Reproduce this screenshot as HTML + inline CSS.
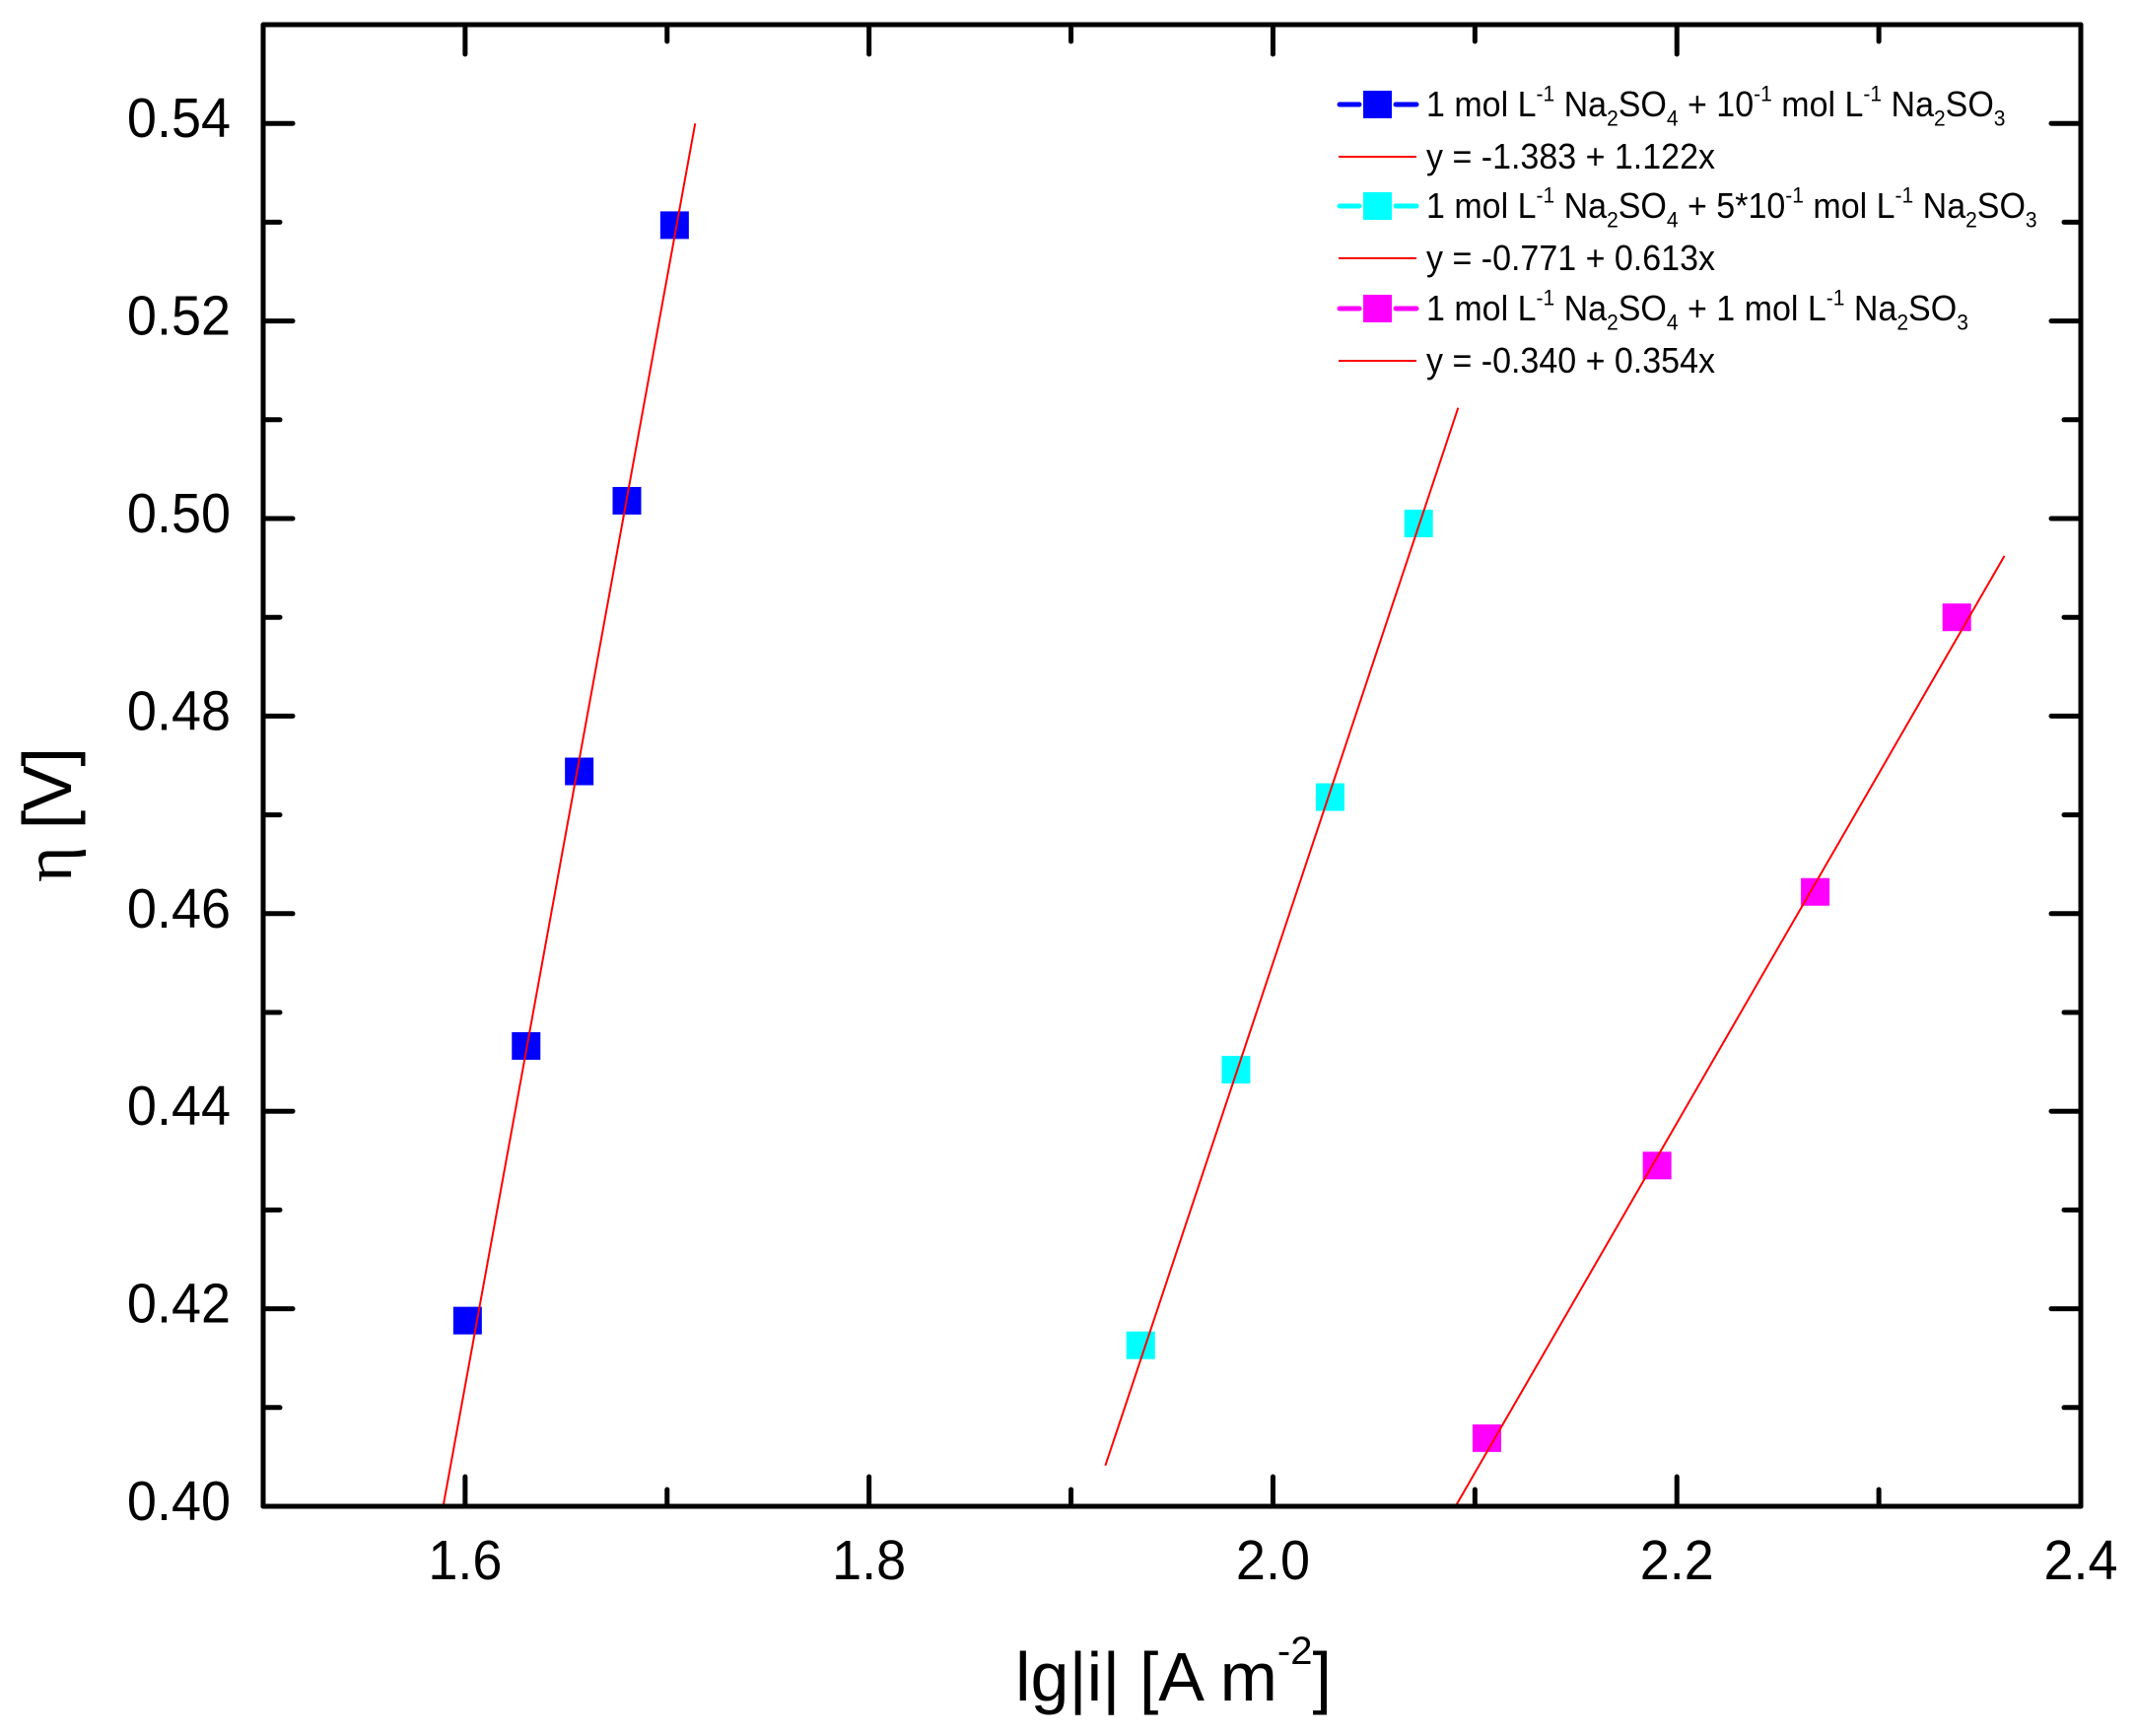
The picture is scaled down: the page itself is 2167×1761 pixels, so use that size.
<!DOCTYPE html>
<html lang="en">
<head>
<meta charset="utf-8">
<title>Tafel plot</title>
<style>
html,body{margin:0;padding:0;background:#fff;}
svg{display:block;}
text{font-family:"Liberation Sans",Arial,sans-serif;fill:#000;}
</style>
</head>
<body>
<svg id="chart" xmlns="http://www.w3.org/2000/svg" width="2167" height="1761" viewBox="0 0 2167 1761">
  <rect x="0" y="0" width="2167" height="1761" fill="#fff"/>
  <g id="marks"></g>
  <g id="axes"></g>

  <text x="1030" y="1725" font-size="70">lg|i| [A m<tspan font-size="40" dy="-37">-2</tspan><tspan dy="37">]</tspan></text>
  <text transform="translate(72,895) rotate(-90)" font-size="70" textLength="137"><tspan style="font-family:'Liberation Serif',serif">η</tspan> [V]</text>

  <g font-size="34">
    <g>
      <line x1="1359" y1="106" x2="1379" y2="106" stroke="#0000ff" stroke-width="5" stroke-linecap="round"/>
      <line x1="1416" y1="106" x2="1437" y2="106" stroke="#0000ff" stroke-width="5" stroke-linecap="round"/>
      <rect x="1383" y="92" width="29" height="28" fill="#0000ff"/>
      <text transform="translate(1447,118) scale(1,1.05)">1 mol L<tspan font-size="21" dy="-15">-1</tspan><tspan dy="15"> Na</tspan><tspan font-size="21" dy="9">2</tspan><tspan dy="-9">SO</tspan><tspan font-size="21" dy="9">4</tspan><tspan dy="-9"> + 10</tspan><tspan font-size="21" dy="-15">-1</tspan><tspan dy="15"> mol L</tspan><tspan font-size="21" dy="-15">-1</tspan><tspan dy="15"> Na</tspan><tspan font-size="21" dy="9">2</tspan><tspan dy="-9">SO</tspan><tspan font-size="21" dy="9">3</tspan></text>
    </g>
    <g>
      <line x1="1358" y1="159" x2="1437" y2="159" stroke="#ff0000" stroke-width="2"/>
      <text transform="translate(1447,171) scale(1,1.05)">y = -1.383 + 1.122x</text>
    </g>
    <g>
      <line x1="1359" y1="209" x2="1379" y2="209" stroke="#00ffff" stroke-width="5" stroke-linecap="round"/>
      <line x1="1416" y1="209" x2="1437" y2="209" stroke="#00ffff" stroke-width="5" stroke-linecap="round"/>
      <rect x="1383" y="195" width="29" height="28" fill="#00ffff"/>
      <text transform="translate(1447,221) scale(1,1.05)">1 mol L<tspan font-size="21" dy="-15">-1</tspan><tspan dy="15"> Na</tspan><tspan font-size="21" dy="9">2</tspan><tspan dy="-9">SO</tspan><tspan font-size="21" dy="9">4</tspan><tspan dy="-9"> + 5*10</tspan><tspan font-size="21" dy="-15">-1</tspan><tspan dy="15"> mol L</tspan><tspan font-size="21" dy="-15">-1</tspan><tspan dy="15"> Na</tspan><tspan font-size="21" dy="9">2</tspan><tspan dy="-9">SO</tspan><tspan font-size="21" dy="9">3</tspan></text>
    </g>
    <g>
      <line x1="1358" y1="262" x2="1437" y2="262" stroke="#ff0000" stroke-width="2"/>
      <text transform="translate(1447,274) scale(1,1.05)">y = -0.771 + 0.613x</text>
    </g>
    <g>
      <line x1="1359" y1="313" x2="1379" y2="313" stroke="#ff00ff" stroke-width="5" stroke-linecap="round"/>
      <line x1="1416" y1="313" x2="1437" y2="313" stroke="#ff00ff" stroke-width="5" stroke-linecap="round"/>
      <rect x="1383" y="299" width="29" height="28" fill="#ff00ff"/>
      <text transform="translate(1447,325) scale(1,1.05)">1 mol L<tspan font-size="21" dy="-15">-1</tspan><tspan dy="15"> Na</tspan><tspan font-size="21" dy="9">2</tspan><tspan dy="-9">SO</tspan><tspan font-size="21" dy="9">4</tspan><tspan dy="-9"> + 1 mol L</tspan><tspan font-size="21" dy="-15">-1</tspan><tspan dy="15"> Na</tspan><tspan font-size="21" dy="9">2</tspan><tspan dy="-9">SO</tspan><tspan font-size="21" dy="9">3</tspan></text>
    </g>
    <g>
      <line x1="1358" y1="366" x2="1437" y2="366" stroke="#ff0000" stroke-width="2"/>
      <text transform="translate(1447,378) scale(1,1.05)">y = -0.340 + 0.354x</text>
    </g>
  </g>
</svg>
<script>
const blueX = [1.6012, 1.6302, 1.6565, 1.6801, 1.7037];
const blueY = [0.4188, 0.4466, 0.4744, 0.5018, 0.5297];
const cyanX = [1.9345, 1.9817, 2.0283, 2.0721];
const cyanY = [0.4163, 0.4442, 0.4718, 0.4995];
const magentaX = [2.1059, 2.1902, 2.2685, 2.3386];
const magentaY = [0.4069, 0.4345, 0.4622, 0.4900];

const blueFit = [-1.383, 1.122];
const cyanFit = [-0.771, 0.613];
const magentaFit = [-0.340, 0.354];
const blueFitRange = [1.589, 1.7139];
const cyanFitRange = [1.917, 2.0917];
const magentaFitRange = [2.0903, 2.3622];

const xDomain = [1.5, 2.4];
const yDomain = [0.40, 0.55];
const xMajorTicks = [1.6, 1.8, 2.0, 2.2, 2.4];
const xMinorTicks = [1.7, 1.9, 2.1, 2.3];
const xTickLabels = ['1.6', '1.8', '2.0', '2.2', '2.4'];
const yMajorTicks = [0.40, 0.42, 0.44, 0.46, 0.48, 0.50, 0.52, 0.54];
const yMinorTicks = [0.41, 0.43, 0.45, 0.47, 0.49, 0.51, 0.53];
const yTickLabels = ['0.40', '0.42', '0.44', '0.46', '0.48', '0.50', '0.52', '0.54'];

const plotLeft = 267, plotRight = 2111, plotTop = 25, plotBottom = 1528;
const NS = 'http://www.w3.org/2000/svg';
const marks = document.getElementById('marks');
const axes = document.getElementById('axes');

function xScale(v) {
  return plotLeft + (v - xDomain[0]) / (xDomain[1] - xDomain[0]) * (plotRight - plotLeft);
}
function yScale(v) {
  return plotBottom - (v - yDomain[0]) / (yDomain[1] - yDomain[0]) * (plotBottom - plotTop);
}
function make(tag, props, parent) {
  const el = document.createElementNS(NS, tag);
  for (const k in props) el.setAttribute(k, props[k]);
  parent.appendChild(el);
  return el;
}
function tickLine(x1, y1, x2, y2, name) {
  const el = make('line', {x1: x1, y1: y1, x2: x2, y2: y2, stroke: '#000', 'stroke-width': 5, 'stroke-linecap': 'round'}, axes);
  
  
}

function drawPoints(xs, ys, color, name) {
  xs.forEach(function (x, i) {
    const px = xScale(x), py = yScale(ys[i]);
    const el = make('rect', {x: px - 14.5, y: py - 14, width: 29, height: 28, fill: color}, marks);
    
    
  });
}
function drawFit(fit, range, name) {
  const el = make('line', {
    x1: xScale(range[0]), y1: yScale(fit[0] + fit[1] * range[0]),
    x2: xScale(range[1]), y2: yScale(fit[0] + fit[1] * range[1]),
    stroke: '#ff0000', 'stroke-width': 2
  }, marks);
  
  
}

drawPoints(blueX, blueY, '#0000ff', 'blue');
drawPoints(cyanX, cyanY, '#00ffff', 'cyan');
drawPoints(magentaX, magentaY, '#ff00ff', 'magenta');
drawFit(blueFit, blueFitRange, 'blue');
drawFit(cyanFit, cyanFitRange, 'cyan');
drawFit(magentaFit, magentaFitRange, 'magenta');

const majorLen = 30, minorLen = 17;
xMajorTicks.forEach(function (v, i) {
  const x = xScale(v);
  tickLine(x, plotBottom, x, plotBottom - majorLen, 'x-major-tick');
  tickLine(x, plotTop, x, plotTop + majorLen, 'x-major-tick-top');
  const t = make('text', {transform: 'translate(' + x + ',1602) scale(1,1.05)', 'font-size': 54, 'text-anchor': 'middle'}, axes);
  t.textContent = xTickLabels[i];
  
  
});
xMinorTicks.forEach(function (v) {
  const x = xScale(v);
  tickLine(x, plotBottom, x, plotBottom - minorLen, 'x-minor-tick');
  tickLine(x, plotTop, x, plotTop + minorLen, 'x-minor-tick-top');
});
yMajorTicks.forEach(function (v, i) {
  const y = yScale(v);
  tickLine(plotLeft, y, plotLeft + majorLen, y, 'y-major-tick');
  tickLine(plotRight, y, plotRight - majorLen, y, 'y-major-tick-right');
  const t = make('text', {transform: 'translate(234,' + (y + 14) + ') scale(1,1.05)', 'font-size': 54, 'text-anchor': 'end'}, axes);
  t.textContent = yTickLabels[i];
  
  
});
yMinorTicks.forEach(function (v) {
  const y = yScale(v);
  tickLine(plotLeft, y, plotLeft + minorLen, y, 'y-minor-tick');
  tickLine(plotRight, y, plotRight - minorLen, y, 'y-minor-tick-right');
});

const frame = make('rect', {
  x: plotLeft, y: plotTop, width: plotRight - plotLeft, height: plotBottom - plotTop,
  fill: 'none', stroke: '#000', 'stroke-width': 5, 'stroke-linejoin': 'round'
}, axes);


</script>
</body>
</html>
